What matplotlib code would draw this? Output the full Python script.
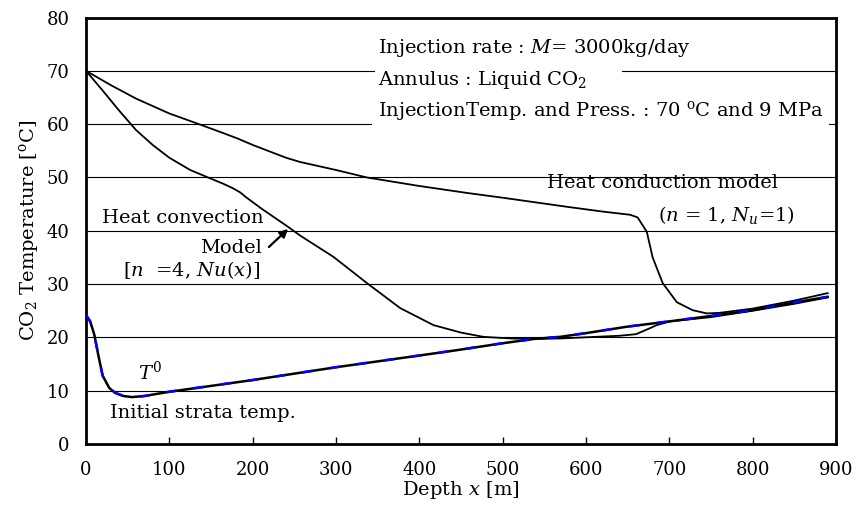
import numpy as np
import matplotlib
matplotlib.use("Agg")
import matplotlib.pyplot as plt

plt.rcParams["font.family"] = "DejaVu Serif"
plt.rcParams["mathtext.fontset"] = "dejavuserif"

# initial strata temperature T0
x_t0 = [0, 5, 10, 15, 20, 28, 35, 45, 55, 70, 100, 150, 200, 300, 400, 445, 500,
        537, 569, 600, 649, 700, 749, 800, 848, 890]
y_t0 = [24.2, 23.0, 20.5, 16.5, 12.8, 10.5, 9.6, 9.0, 8.8, 9.0, 9.8, 10.9, 12.0,
        14.4, 16.6, 17.6, 18.9, 19.7, 20.1, 20.8, 22.0, 23.0, 24.0, 25.1, 26.5, 27.6]

# heat conduction model (n=1, Nu=1)
x_cond = [0, 30, 60, 100, 132, 160, 182, 200, 240, 257, 300, 337, 400, 457, 500,
          577, 620, 653, 662, 673, 680, 692, 709, 728, 745, 760, 800, 850, 890]
y_cond = [70, 67.3, 64.8, 62.0, 60.2, 58.6, 57.3, 56.1, 53.7, 52.9, 51.4, 50.0,
          48.4, 47.1, 46.2, 44.5, 43.6, 43.0, 42.5, 39.8, 35.0, 30.2, 26.6, 25.1,
          24.5, 24.6, 25.4, 26.9, 28.3]

# heat convection model (n=4, Nu(x))
x_conv = [0, 20, 40, 60, 80, 100, 125, 148, 165, 176, 185, 192, 212, 241, 257, 297,
          337, 377, 417, 450, 477, 510, 537, 570, 597, 640, 660, 672, 685, 701, 750,
          800, 850, 890]
y_conv = [70, 66.3, 62.5, 58.9, 56.1, 53.7, 51.4, 49.9, 48.8, 48.0, 47.2, 46.3, 44.0,
          40.9, 39.1, 35.1, 30.2, 25.5, 22.3, 20.9, 20.1, 19.8, 19.7, 19.8, 20.0, 20.3,
          20.6, 21.4, 22.3, 23.0, 23.8, 25.0, 26.3, 27.5]

fs = 14

fig = plt.figure(figsize=(8.54, 5.11), dpi=100)
ax = fig.add_axes([0.1007, 0.1311, 0.8782, 0.8346])

for yv in range(10, 80, 10):
    ax.axhline(yv, color="black", lw=0.8, zorder=1)

ax.plot(x_cond, y_cond, color="black", lw=1.3, zorder=3)
ax.plot(x_conv, y_conv, color="black", lw=1.3, zorder=3)
ax.plot(x_t0, y_t0, color="black", lw=1.8, zorder=4)
ax.plot(x_t0, y_t0, color="blue", lw=1.8, dashes=(4, 7), zorder=5)

ax.set_xlim(0, 900)
ax.set_ylim(0, 80)
ax.set_xticks(range(0, 1000, 100))
ax.set_yticks(range(0, 90, 10))
ax.tick_params(axis="x", direction="in", length=5, width=1, labelsize=13, pad=12)
ax.tick_params(axis="y", length=0, labelsize=13, pad=12)
for s in ax.spines.values():
    s.set_linewidth(2)

ax.set_xlabel("Depth $x$ [m]", fontsize=fs, labelpad=0)
ax.set_ylabel("CO$_2$ Temperature [$^{\\rm o}$C]", fontsize=fs, labelpad=4)

ax.text(350, 74.2, "Injection rate : $M$= 3000kg/day", fontsize=fs, va="center",
        bbox=dict(facecolor="white", edgecolor="none", pad=2), zorder=6)
ax.text(350, 68.3, "Annulus : Liquid CO$_2$      ", fontsize=fs, va="center",
        bbox=dict(facecolor="white", edgecolor="none", pad=2), zorder=6)
ax.text(350, 62.4, "InjectionTemp. and Press. : 70 $^{\\rm o}$C and 9 MPa",
        fontsize=fs, va="center", bbox=dict(facecolor="white", edgecolor="none", pad=4),
        zorder=6)

ax.text(553, 49.0, "Heat conduction model", fontsize=fs, va="center", zorder=6)
ax.text(686, 43.0, "($n$ = 1, $N_u$=1)", fontsize=fs, va="center", zorder=6)

ax.text(19, 42.4, "Heat convection", fontsize=fs, va="center", zorder=6)
ax.text(211, 36.8, "Model", fontsize=fs, va="center", ha="right", zorder=6)
ax.text(44, 32.6, "[$n$  =4, $Nu$($x$)]", fontsize=fs, va="center", zorder=6)
ax.annotate("", xy=(245, 40.7), xytext=(217, 36.6),
            arrowprops=dict(arrowstyle="-|>", color="black", lw=1.6,
                            mutation_scale=12), zorder=6)

ax.text(62, 13.4, "$T^0$", fontsize=fs, va="center", zorder=6)
ax.text(29, 5.8, "Initial strata temp.", fontsize=fs, va="center", zorder=6)

fig.savefig("out.png", dpi=100)
